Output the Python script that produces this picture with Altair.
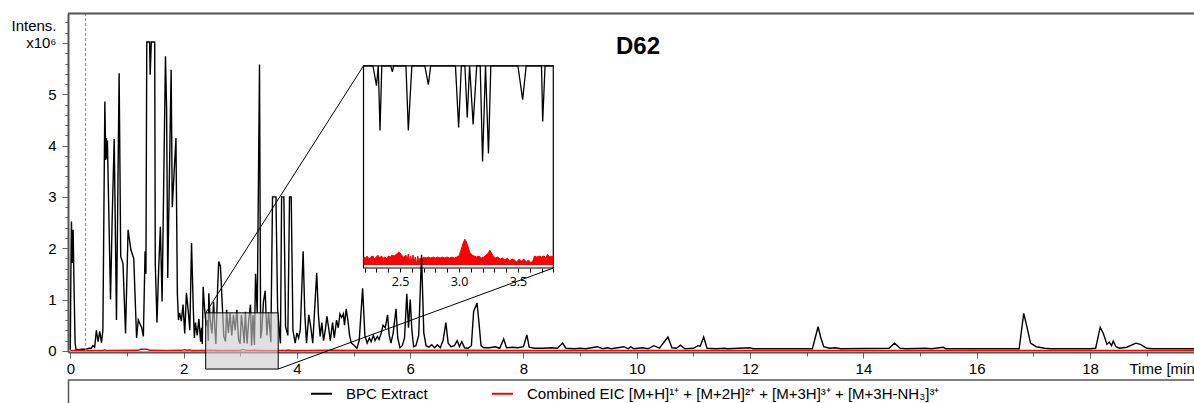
import altair as alt
import pandas as pd

# ---- data -----------------------------------------------------------------
# Base peak chromatogram: retention time [min], intensity [x10^6]
bpc_time = [
    0.00, 0.01, 0.02, 0.035, 0.05, 0.07, 0.085, 0.10, 0.15, 0.20, 0.25, 0.30,
    0.34, 0.37, 0.40, 0.43, 0.46, 0.49, 0.52, 0.55, 0.575, 0.61, 0.625, 0.635,
    0.645, 0.655, 0.71, 0.74, 0.775, 0.815, 0.862, 0.89, 0.93, 0.975, 1.02,
    1.07, 1.12, 1.17, 1.20, 1.26, 1.29, 1.32, 1.335, 1.35, 1.40, 1.41, 1.43,
    1.49, 1.50, 1.53, 1.56, 1.59, 1.62, 1.68, 1.70, 1.72, 1.78, 1.80, 1.865,
    1.89, 1.91, 1.93, 1.96, 1.99, 2.02, 2.05, 2.08, 2.11, 2.14, 2.17, 2.19,
    2.21, 2.24, 2.27, 2.30, 2.315, 2.33, 2.345, 2.37, 2.40, 2.42, 2.435,
    2.445, 2.47, 2.50, 2.53, 2.55, 2.57, 2.60, 2.62, 2.65, 2.68, 2.71, 2.74,
    2.76, 2.79, 2.82, 2.85, 2.88, 2.91, 2.94, 2.97, 2.997, 3.02, 3.05, 3.07,
    3.09, 3.12, 3.15, 3.18, 3.20, 3.225, 3.25, 3.27, 3.30, 3.34, 3.36, 3.38,
    3.41, 3.44, 3.47, 3.50, 3.54, 3.57, 3.63, 3.66, 3.70, 3.71, 3.73, 3.77,
    3.80, 3.84, 3.87, 3.90, 3.93, 3.97, 4.00, 4.03, 4.06, 4.11, 4.14, 4.17,
    4.21, 4.24, 4.28, 4.35, 4.38, 4.41, 4.44, 4.47, 4.50, 4.53, 4.56, 4.59,
    4.63, 4.66, 4.70, 4.73, 4.76, 4.79, 4.82, 4.84, 4.87, 4.90, 4.93, 4.96,
    5.00, 5.06, 5.10, 5.16, 5.20, 5.24, 5.28, 5.31, 5.35, 5.38, 5.42, 5.45,
    5.49, 5.52, 5.56, 5.60, 5.63, 5.66, 5.70, 5.75, 5.78, 5.82, 5.86, 5.90,
    5.94, 5.97, 6.00, 6.03, 6.06, 6.10, 6.15, 6.20, 6.24, 6.28, 6.33, 6.38,
    6.43, 6.48, 6.53, 6.58, 6.63, 6.67, 6.72, 6.78, 6.83, 6.87, 6.91, 6.96,
    7.02, 7.08, 7.12, 7.18, 7.21, 7.25, 7.30, 7.40, 7.50, 7.58, 7.65, 7.70,
    7.80, 7.90, 8.00, 8.06, 8.10, 8.20, 8.35, 8.50, 8.60, 8.69, 8.75, 8.90,
    9.00, 9.10, 9.30, 9.40, 9.48, 9.55, 9.77, 9.85, 9.89, 9.95, 10.10, 10.20,
    10.30, 10.40, 10.55, 10.62, 10.70, 10.77, 10.85, 11.00, 11.08, 11.12,
    11.18, 11.24, 11.40, 11.55, 11.60, 12.00, 12.05, 13.10, 13.20, 13.25,
    13.30, 13.40, 13.50, 13.60, 14.45, 14.55, 14.65, 14.75, 15.10, 15.20,
    15.41, 15.45, 16.75, 16.83, 16.88, 16.95, 17.05, 17.20, 17.30, 18.00,
    18.10, 18.18, 18.23, 18.30, 18.34, 18.38, 18.41, 18.46, 18.52, 18.65,
    18.81, 18.90, 19.00, 19.10, 19.85,
]
bpc_intensity = [
    0.02, 1.50, 2.52, 1.71, 2.36, 1.00, 0.15, 0.03, 0.02, 0.03, 0.03, 0.04,
    0.05, 0.05, 0.10, 0.07, 0.40, 0.18, 0.38, 0.16, 0.39, 4.86, 3.72, 4.15,
    3.75, 4.10, 1.00, 2.62, 4.13, 0.60, 5.41, 1.84, 1.70, 0.34, 2.36,
    1.97, 1.80, 0.25, 0.60, 0.45, 0.28, 1.94, 1.50, 6.02, 6.02, 5.38, 6.02,
    6.02, 1.71, 0.55, 1.60, 2.42, 0.96, 5.74, 4.73, 1.42, 5.48, 2.80, 4.15,
    1.10, 0.60, 0.74, 0.58, 0.90, 0.34, 1.13, 0.80, 0.40, 2.10, 0.86, 0.25,
    0.55, 0.30, 0.62, 0.18, 0.45, 0.135, 1.25, 0.83, 0.48, 0.60, 0.194,
    1.12, 0.60, 0.34, 0.96, 0.45, 0.135, 1.20, 1.74, 1.65, 0.96, 0.28, 0.181,
    0.80, 0.35, 0.74, 0.30, 0.70, 0.40, 0.80, 0.22, 0.138, 0.70, 0.40, 0.148,
    0.76, 0.141, 0.60, 0.90, 0.104, 0.70, 0.112, 1.50, 0.74, 5.58, 0.24, 0.40,
    0.96, 1.17, 0.30, 0.75, 0.166, 3.00, 3.00, 0.80, 0.25, 0.144, 3.00, 3.00,
    0.47, 0.30, 3.00, 3.00, 0.40, 0.15, 0.35, 0.25, 0.41, 1.94, 0.70, 0.15,
    0.70, 0.50, 0.15, 1.52, 0.70, 0.28, 0.55, 0.20, 0.40, 0.67, 0.45, 0.20,
    0.55, 0.25, 0.60, 0.45, 0.72, 0.65, 0.72, 0.50, 0.82, 0.60, 0.30, 0.15,
    0.12, 0.05, 0.20, 1.22, 0.30, 0.15, 0.25, 0.18, 0.30, 0.20, 0.28, 0.22,
    0.35, 0.50, 0.45, 0.70, 0.30, 0.15, 0.35, 0.82, 0.25, 0.06, 0.10, 0.25,
    1.11, 0.45, 1.00, 0.40, 0.08, 0.10, 0.30, 1.87, 0.35, 0.10, 0.07, 0.12,
    0.06, 0.12, 0.06, 0.20, 0.55, 0.15, 0.08, 0.10, 0.20, 0.08, 0.18, 0.06,
    0.05, 0.10, 0.77, 0.93, 0.60, 0.10, 0.06, 0.06, 0.08, 0.05, 0.23, 0.06,
    0.07, 0.06, 0.08, 0.31, 0.07, 0.05, 0.05, 0.06, 0.05, 0.15, 0.05, 0.04,
    0.05, 0.04, 0.08, 0.04, 0.06, 0.04, 0.08, 0.04, 0.08, 0.04, 0.06, 0.04,
    0.10, 0.05, 0.27, 0.06, 0.05, 0.11, 0.04, 0.05, 0.10, 0.09,
    0.27, 0.05, 0.04, 0.05, 0.04, 0.06, 0.04, 0.04, 0.47, 0.25,
    0.08, 0.05, 0.06, 0.04, 0.05, 0.15, 0.05, 0.04, 0.05, 0.04,
    0.07, 0.04, 0.04, 0.73, 0.50, 0.15, 0.08, 0.05, 0.04, 0.04,
    0.05, 0.46, 0.35, 0.13, 0.17, 0.10, 0.19, 0.08, 0.05, 0.07,
    0.15, 0.12, 0.05, 0.04, 0.04,
]

# Combined extracted ion chromatogram: retention time [min], intensity [x10^6]
eic_time = [
    0.00, 0.58, 0.61, 0.64, 1.20, 1.24, 1.36, 1.40, 1.70, 1.98, 2.02, 2.06,
    2.10, 2.14,
    2.19, 2.21, 2.22, 2.24, 2.25, 2.27, 2.28, 2.30, 2.31, 2.33, 2.34, 2.36,
    2.37, 2.39, 2.40, 2.42, 2.43, 2.45, 2.47, 2.49, 2.50, 2.52, 2.53, 2.55,
    2.56, 2.57, 2.58, 2.59, 2.60, 2.61, 2.62, 2.63, 2.64, 2.65, 2.66, 2.67,
    2.68, 2.70, 2.72, 2.74, 2.76, 2.78, 2.80, 2.82, 2.84, 2.86, 2.88, 2.90,
    2.92, 2.94, 2.96, 2.98, 3.00, 3.02, 3.035, 3.05, 3.06, 3.075, 3.09, 3.11,
    3.13, 3.15, 3.17, 3.19, 3.21, 3.23, 3.25, 3.26, 3.27, 3.29, 3.31, 3.33,
    3.35, 3.37, 3.39, 3.41, 3.43, 3.45, 3.47, 3.49, 3.51, 3.53, 3.55, 3.57,
    3.59, 3.61, 3.63, 3.64, 3.66, 3.68, 3.70, 3.72, 3.74, 3.75, 3.77, 3.79,
    3.80,
    3.85, 3.90, 4.20, 4.50, 5.20, 7.00, 10.00, 19.85,
]
eic_intensity = [
    0.008, 0.008, 0.020, 0.008, 0.010, 0.030, 0.030, 0.010, 0.008, 0.010,
    0.025, 0.008, 0.020, 0.006,
    0.008, 0.007, 0.009, 0.006, 0.008, 0.009, 0.006, 0.008, 0.010, 0.007,
    0.009, 0.007, 0.008, 0.006, 0.009, 0.008, 0.010, 0.009, 0.011, 0.013,
    0.012, 0.009, 0.008, 0.010, 0.005, 0.011, 0.003, 0.009, 0.002, 0.010,
    0.004, 0.008, 0.001, 0.009, 0.003, 0.007, 0.005, 0.008, 0.007, 0.008,
    0.007, 0.008, 0.007, 0.008, 0.007, 0.008, 0.007, 0.008, 0.007, 0.008,
    0.007, 0.008, 0.009, 0.016, 0.022, 0.026, 0.024, 0.019, 0.013, 0.010,
    0.009, 0.008, 0.009, 0.007, 0.008, 0.010, 0.012, 0.015, 0.013, 0.009,
    0.007, 0.008, 0.006, 0.007, 0.005, 0.007, 0.004, 0.006, 0.005, 0.003,
    0.006, 0.004, 0.006, 0.003, 0.005, 0.002, 0.005, 0.009, 0.008, 0.009,
    0.008, 0.009, 0.007, 0.011, 0.008, 0.009, 0.007,
    0.015, 0.006, 0.008, 0.012, 0.008, 0.010, 0.008, 0.008,
]

BPC_LABEL = "BPC Extract"
EIC_LABEL = "Combined EIC [M+H]¹⁺ + [M+2H]²⁺ + [M+3H]³⁺ + [M+3H-NH₃]³⁺"
SAMPLE = "D62"

marker_time = [0.27]                      # dead-time marker

zoom_time = [2.39, 3.67]                  # highlighted window on the main trace
zoom_intensity = [-0.355, 0.74]

inset_time = [2.19, 3.80]                 # inset axis window
inset_intensity = [-0.003, 0.2]
inset_place_time = [5.176, 8.526]         # where the inset sits, in main units
inset_place_intensity = [1.614, 5.556]

# ---- layout ---------------------------------------------------------------
W, H = 1126, 339
x_dom = [-0.0406, 19.836]
y_dom = [-0.023, 6.585]
FONT = "Liberation Sans"
AXIS_GRAY = "#555555"


def px(t):
    return (t - x_dom[0]) / (x_dom[1] - x_dom[0]) * W


def py(v):
    return (y_dom[1] - v) / (y_dom[1] - y_dom[0]) * H


bpc = pd.DataFrame({"t": bpc_time, "v": bpc_intensity, "series": BPC_LABEL})
eic = pd.DataFrame({"t": eic_time, "v": eic_intensity, "series": EIC_LABEL})

# ---- main axes -------------------------------------------------------------
x_axis = alt.Axis(
    orient="bottom",
    values=list(range(20)),
    labelExpr="datum.value % 2 === 0 ? datum.label : ''",
    tickSize={"condition": {"test": "datum.value % 2 === 0", "value": 6}, "value": 4},
    tickColor="#666666",
    domainColor=AXIS_GRAY,
    domainWidth=2,
    grid=False,
    labelFont=FONT,
    labelFontSize=15,
    labelColor="black",
    labelPadding=3,
    labelOverlap=False,
    labelFlush=False,
    title="Time [min]",
    titleFont=FONT,
    titleFontSize=15,
    titleFontWeight="normal",
    titleColor="black",
    titleAlign="left",
    titleBaseline="top",
    titleX=1061,
    titleY=9,
)

is_int = "abs(datum.value - round(datum.value)) < 0.001"
y_axis = alt.Axis(
    orient="left",
    values=[round(0.2 * i, 1) for i in range(33)],
    labelExpr=f"{is_int} && datum.value < 5.5 ? format(datum.value, 'd') : ''",
    tickSize={"condition": {"test": is_int, "value": 6}, "value": 3},
    tickColor="#666666",
    domainColor=AXIS_GRAY,
    domainWidth=2,
    grid=False,
    labelFont=FONT,
    labelFontSize=15,
    labelColor="black",
    labelPadding=6,
    labelOverlap=False,
    labelFlush=False,
    title=["Intens.", "x10⁶"],
    titleFont=FONT,
    titleFontSize=15,
    titleFontWeight="normal",
    titleColor="black",
    titleAngle=0,
    titleAlign="right",
    titleBaseline="top",
    titleLineHeight=17,
    titleX=-12,
    titleY=5,
)

x_scale = alt.Scale(domain=x_dom, nice=False, zero=False)
y_scale = alt.Scale(domain=y_dom, nice=False, zero=False)


def X(field):
    return alt.X(f"{field}:Q", scale=x_scale, axis=x_axis)


def Y(field):
    return alt.Y(f"{field}:Q", scale=y_scale, axis=y_axis)


color = alt.Color(
    "series:N",
    scale=alt.Scale(domain=[BPC_LABEL, EIC_LABEL], range=["#000000", "#ff0000"]),
    legend=alt.Legend(
        orient="none",
        legendX=242,
        legendY=369,
        direction="horizontal",
        title=None,
        symbolType="stroke",
        symbolSize=441,
        symbolStrokeWidth=2,
        labelFont=FONT,
        labelFontSize=15,
        labelColor="black",
        labelOffset=13,
        columnPadding=60,
        labelLimit=800,
        padding=0,
    ),
)

bpc_line = alt.Chart(bpc).mark_line(strokeWidth=1.4).encode(x=X("t"), y=Y("v"), color=color)
eic_line = alt.Chart(eic).mark_line(strokeWidth=1.4).encode(x=X("t"), y=Y("v"), color=color)

zoom_box = alt.Chart(
    pd.DataFrame({"t": [zoom_time[0]], "t_end": [zoom_time[1]],
                  "v": [zoom_intensity[0]], "v_end": [zoom_intensity[1]]})
).mark_rect(fill="#cccccc", fillOpacity=0.6, stroke="black", strokeWidth=1).encode(
    x=X("t"), x2="t_end", y=Y("v"), y2="v_end"
)

connectors = alt.Chart(
    pd.DataFrame({
        "seg": ["a", "a", "b", "b"],
        "t": [zoom_time[0], inset_place_time[0], zoom_time[1], inset_place_time[1]],
        "v": [zoom_intensity[1], inset_place_intensity[1],
              zoom_intensity[0], inset_place_intensity[0]],
    })
).mark_line(color="black", strokeWidth=1).encode(x=X("t"), y=Y("v"), detail="seg:N")

marker = alt.Chart(pd.DataFrame({"t": marker_time})).mark_rule(
    color="#8c8c8c", strokeDash=[3, 2], strokeWidth=1
).encode(x=X("t"))

one = pd.DataFrame({"k": [0]})
top_border = alt.Chart(one).mark_rule(color=AXIS_GRAY, strokeWidth=2).encode(
    x=alt.value(0), x2=alt.value(W), y=alt.value(0.5)
)
legend_top = alt.Chart(one).mark_rule(color=AXIS_GRAY, strokeWidth=1.5).encode(
    x=alt.value(0), x2=alt.value(W), y=alt.value(367)
)
legend_left = alt.Chart(one).mark_rule(color=AXIS_GRAY, strokeWidth=1.5).encode(
    x=alt.value(0.5), y=alt.value(367), y2=alt.value(400)
)

main = alt.layer(
    bpc_line, eic_line, zoom_box, connectors, marker, top_border, legend_top, legend_left
)

# ---- inset -----------------------------------------------------------------
inset_axis = alt.Axis(
    orient="bottom",
    offset=py(inset_place_intensity[0]) - H,
    values=[round(2.2 + 0.1 * i, 1) for i in range(17)],
    labelExpr="abs(datum.value * 2 - round(datum.value * 2)) < 0.001 ? format(datum.value, '.1f') : ''",
    domain=False,
    grid=False,
    tickSize=4,
    tickColor="black",
    labelFont="Open Sans",
    labelFontSize=12.5,
    labelColor="black",
    labelPadding=3,
    labelOverlap=False,
    labelFlush=False,
    title=None,
)
xi_scale = alt.Scale(domain=inset_time, range=[px(inset_place_time[0]), px(inset_place_time[1])],
                     clamp=True, nice=False, zero=False)
yi_scale = alt.Scale(domain=inset_intensity,
                     range=[py(inset_place_intensity[0]), py(inset_place_intensity[1])],
                     clamp=True, nice=False, zero=False)
xi = alt.X("t:Q", scale=xi_scale, axis=inset_axis)
yi = alt.Y("v:Q", scale=yi_scale, axis=None)
in_window = f"datum.t >= {inset_time[0]} && datum.t <= {inset_time[1]}"

inset_frame = alt.Chart(
    pd.DataFrame({"t": [inset_time[0]], "t_end": [inset_time[1]],
                  "v": [inset_intensity[0]], "v_end": [inset_intensity[1]]})
).mark_rect(fill="white", stroke="black", strokeWidth=1.2).encode(
    x=xi, x2="t_end", y=yi, y2="v_end"
)
inset_eic = alt.Chart(eic).transform_filter(in_window).mark_area(
    color="#ff0000", opacity=1, fillOpacity=1,
    line={"color": "#ff0000", "strokeWidth": 1},
).encode(x=xi, y=yi, y2=alt.datum(0))
inset_bpc = alt.Chart(bpc).transform_filter(in_window).mark_line(
    color="black", strokeWidth=1.3
).encode(x=xi, y=yi)

inset = alt.layer(inset_frame, inset_eic, inset_bpc)

chart = (
    alt.layer(inset, main)
    .resolve_scale(x="independent", y="independent")
    .properties(
        width=W,
        height=H,
        padding={"left": 68, "top": 13, "right": 0, "bottom": 51},
        autosize=alt.AutoSizeParams(type="none"),
        title=alt.TitleParams(
            SAMPLE, font=FONT, fontSize=24, fontWeight="bold", color="black",
            anchor="middle", baseline="alphabetic", offset=0, dx=7, dy=65,
        ),
    )
    .configure_view(stroke=None)
    .configure(font=FONT)
)

chart.save("out.html", embed_options={"renderer": "svg", "actions": False})
